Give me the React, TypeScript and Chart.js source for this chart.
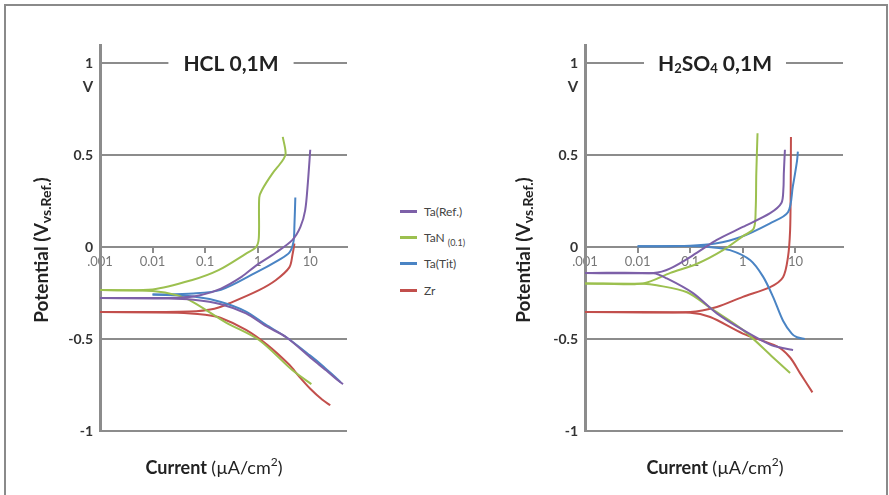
import React, { useEffect, useRef } from 'react';
import { Chart, registerables } from 'chart.js';

Chart.register(...registerables);

type Point = [number, number];

// Series shared by both panels
const seriesNames = ['Ta(Ref.)', 'TaN', 'Ta(Tit)', 'Zr'];
const seriesSubs = ['', '(0.1)', '', ''];
const seriesColors = ['#7d60a8', '#9cc04f', '#4a84c4', '#c24f4c'];

// Axis ticks
const currentTicks = [0.001, 0.01, 0.1, 1, 10];
const currentTickLabels = ['.001', '0.01', '0.1', '1', '10'];
const potentialTicks = [-1, -0.5, 0, 0.5, 1];
const potentialTickLabels = ['-1', '-0.5', '0', '0.5', '1'];

// HCl 0,1M : [current µA/cm², potential V], each curve split at Ecorr
const hclTaRefCathodic: Point[] = [[0.001, -0.277], [0.02, -0.279], [0.06, -0.286], [0.2, -0.31], [0.6, -0.36], [1.45, -0.43], [3.5, -0.49], [11, -0.61], [20, -0.67], [32, -0.72], [42, -0.745]];
const hclTaRefAnodic: Point[] = [[0.001, -0.277], [0.03, -0.275], [0.08, -0.262], [0.2, -0.225], [0.5, -0.16], [0.93, -0.1], [2.2, -0.03], [4.6, 0.04], [6.5, 0.11], [8, 0.2], [9, 0.35], [10, 0.53]];
const hclTaNCathodic: Point[] = [[0.001, -0.233], [0.01, -0.238], [0.03, -0.262], [0.06, -0.3], [0.25, -0.41], [1.06, -0.505], [4.6, -0.67], [10.5, -0.745]];
const hclTaNAnodic: Point[] = [[0.001, -0.233], [0.01, -0.23], [0.055, -0.18], [0.18, -0.125], [0.6, -0.035], [0.93, 0.0], [1.05, 0.05], [1.07, 0.27], [1.2, 0.31], [1.9, 0.4], [2.95, 0.47], [3.4, 0.51], [3.0, 0.6]];
const hclTaTitCathodic: Point[] = [[0.01, -0.258], [0.06, -0.268], [0.2, -0.298], [0.6, -0.35], [1.4, -0.42], [3.5, -0.49], [10, -0.59], [18, -0.65], [28, -0.7], [38, -0.735]];
const hclTaTitAnodic: Point[] = [[0.01, -0.258], [0.06, -0.252], [0.2, -0.232], [0.9, -0.14], [2.5, -0.07], [4, -0.03], [4.8, 0.03], [5.0, 0.12], [5.2, 0.27]];
const hclZrCathodic: Point[] = [[0.001, -0.353], [0.03, -0.356], [0.1, -0.368], [0.2, -0.385], [0.6, -0.45], [1.5, -0.53], [4, -0.64], [6, -0.7], [10, -0.77], [17, -0.83], [24, -0.86]];
const hclZrAnodic: Point[] = [[0.001, -0.353], [0.05, -0.35], [0.15, -0.335], [0.32, -0.3], [1.06, -0.234], [2.2, -0.18], [4, -0.11], [4.6, -0.04], [5, 0.02]];

// H2SO4 0,1M
const h2so4TaRefCathodic: Point[] = [[0.001, -0.14], [0.02, -0.142], [0.036, -0.17], [0.113, -0.25], [0.32, -0.36], [1.0, -0.45], [3.3, -0.53], [6, -0.55], [9, -0.56]];
const h2so4TaRefAnodic: Point[] = [[0.001, -0.14], [0.02, -0.14], [0.042, -0.115], [0.135, -0.03], [0.32, 0.04], [1.0, 0.11], [3.3, 0.185], [5.4, 0.24], [5.9, 0.32], [6.0, 0.4], [6.3, 0.53]];
const h2so4TaNCathodic: Point[] = [[0.001, -0.197], [0.0126, -0.199], [0.023, -0.207], [0.087, -0.245], [0.24, -0.33], [1.0, -0.45], [3.75, -0.6], [7.9, -0.685]];
const h2so4TaNAnodic: Point[] = [[0.001, -0.197], [0.0126, -0.197], [0.042, -0.14], [0.135, -0.09], [0.42, -0.016], [1.0, 0.06], [1.6, 0.1], [1.75, 0.2], [1.8, 0.4], [1.9, 0.62]];
const h2so4TaTitCathodic: Point[] = [[0.01, 0.005], [0.1, 0.006], [0.25, 0.0], [0.57, -0.016], [1.37, -0.07], [2.42, -0.16], [3.75, -0.27], [5.8, -0.4], [8.5, -0.47], [10.7, -0.49], [15, -0.5]];
const h2so4TaTitAnodic: Point[] = [[0.01, 0.005], [0.1, 0.008], [0.3, 0.02], [0.885, 0.054], [3.29, 0.13], [7.2, 0.19], [8.9, 0.33], [10.7, 0.47], [11.1, 0.52]];
const h2so4ZrCathodic: Point[] = [[0.001, -0.353], [0.1, -0.356], [0.24, -0.38], [1.0, -0.47], [4.47, -0.54], [7.9, -0.6], [12.2, -0.685], [21, -0.79]];
const h2so4ZrAnodic: Point[] = [[0.001, -0.353], [0.1, -0.352], [0.32, -0.325], [1.0, -0.27], [3.3, -0.217], [5.8, -0.163], [7.2, -0.054], [7.9, 0.09], [8.1, 0.3], [8.2, 0.6]];

type Part = { t: string; size: number; bold?: boolean; dy?: number };

type Panel = {
  titleParts: Part[];
  branches: [Point[], Point[]][];
  xMax: number;
  left: number;
  width: number;
  axisWidth: number;
  padRight: number;
  titleCenter: number;
  titleGap: number;
  yTitleX: number;
  yTitleY: number;
  xTitleCenter: number;
  xTitleBaseline: number;
};

const GRID = '#8c8c8c';
const FAMILY = 'Lato, "Open Sans", sans-serif';

function fontOf(p: Part) {
  return `${p.bold ? 'bold ' : ''}${p.size}px ${FAMILY}`;
}

// Draws a run of differently sized text pieces centred on (cx, cy)
function drawRich(ctx: CanvasRenderingContext2D, parts: Part[], cx: number, cy: number, angle: number) {
  let total = 0;
  const widths = parts.map((p) => {
    ctx.font = fontOf(p);
    const w = ctx.measureText(p.t).width;
    total += w;
    return w;
  });
  ctx.save();
  ctx.translate(cx, cy);
  ctx.rotate(angle);
  ctx.textAlign = 'left';
  ctx.textBaseline = 'alphabetic';
  let x = -total / 2;
  parts.forEach((p, i) => {
    ctx.font = fontOf(p);
    ctx.fillText(p.t, x, p.dy ?? 0);
    x += widths[i];
  });
  ctx.restore();
  return total;
}

const yTitleParts: Part[] = [
  { t: 'Potential (V', size: 19, bold: true },
  { t: 'vs.Ref.', size: 14, bold: true, dy: 3 },
  { t: ')', size: 19, bold: true },
];

const xTitleParts: Part[] = [
  { t: 'Current ', size: 18, bold: true },
  { t: '(\u00b5A/cm', size: 18 },
  { t: '2', size: 12, dy: -8 },
  { t: ')', size: 18 },
];

const hclPanel: Panel = {
  titleParts: [{ t: 'HCL 0,1M', size: 21, bold: true }],
  branches: [
    [hclTaRefCathodic, hclTaRefAnodic],
    [hclTaNCathodic, hclTaNAnodic],
    [hclTaTitCathodic, hclTaTitAnodic],
    [hclZrCathodic, hclZrAnodic],
  ],
  xMax: 50,
  left: 0,
  width: 390,
  axisWidth: 100,
  padRight: 43,
  titleCenter: 231,
  titleGap: 15,
  yTitleX: 48,
  yTitleY: 250,
  xTitleCenter: 214,
  xTitleBaseline: 474,
};

const h2so4Panel: Panel = {
  titleParts: [
    { t: 'H', size: 21, bold: true },
    { t: '2', size: 13, bold: true, dy: 2 },
    { t: 'SO', size: 21, bold: true },
    { t: '4', size: 13, bold: true, dy: 2 },
    { t: ' 0,1M', size: 21, bold: true },
  ],
  branches: [
    [h2so4TaRefCathodic, h2so4TaRefAnodic],
    [h2so4TaNCathodic, h2so4TaNAnodic],
    [h2so4TaTitCathodic, h2so4TaTitAnodic],
    [h2so4ZrCathodic, h2so4ZrAnodic],
  ],
  xMax: 80,
  left: 480,
  width: 409,
  axisWidth: 105,
  padRight: 46,
  titleCenter: 235,
  titleGap: 14,
  yTitleX: 50,
  yTitleY: 250,
  xTitleCenter: 235,
  xTitleBaseline: 474,
};

function PolarizationPanel({ panel }: { panel: Panel }) {
  const ref = useRef<HTMLCanvasElement>(null);

  useEffect(() => {
    const canvas = ref.current;
    if (!canvas) return;

    const labels = {
      id: 'panelLabels',
      afterDraw(chart: any) {
        const ctx: CanvasRenderingContext2D = chart.ctx;
        const yScale = chart.scales.y;
        const yOne = yScale.getPixelForValue(1);
        ctx.save();
        // panel title sitting on the 1 V line
        let tw = 0;
        panel.titleParts.forEach((p) => {
          ctx.font = fontOf(p);
          tw += ctx.measureText(p.t).width;
        });
        ctx.fillStyle = '#ffffff';
        ctx.fillRect(panel.titleCenter - tw / 2 - panel.titleGap, yOne - 5, tw + panel.titleGap * 2, 10);
        ctx.fillStyle = '#222222';
        drawRich(ctx, panel.titleParts, panel.titleCenter, yOne + 8, 0);
        // unit under the top tick
        ctx.fillStyle = '#333333';
        ctx.font = `bold 15px ${FAMILY}`;
        ctx.textAlign = 'center';
        ctx.textBaseline = 'middle';
        ctx.fillText('V', panel.axisWidth - 12, yOne + 24);
        // axis titles
        ctx.fillStyle = '#222222';
        drawRich(ctx, yTitleParts, panel.yTitleX, panel.yTitleY, -Math.PI / 2);
        drawRich(ctx, xTitleParts, panel.xTitleCenter, panel.xTitleBaseline, 0);
        ctx.restore();
      },
    };

    const datasets: any[] = [];
    panel.branches.forEach(([cathodic, anodic], i) => {
      [cathodic, anodic].forEach((branch) => {
        datasets.push({
          label: seriesNames[i],
          data: branch.map(([x, y]) => ({ x, y })),
          borderColor: seriesColors[i],
          backgroundColor: seriesColors[i],
          borderWidth: 2,
          pointRadius: 0,
          showLine: true,
          tension: 0.3,
        });
      });
    });

    const chart = new Chart(canvas, {
      type: 'scatter',
      data: { datasets },
      options: {
        animation: false,
        responsive: false,
        devicePixelRatio: 1,
        layout: { padding: { top: 45, bottom: 64, left: 0, right: panel.padRight } },
        plugins: { legend: { display: false }, tooltip: { enabled: false } },
        scales: {
          x: {
            type: 'logarithmic',
            min: 0.001,
            max: panel.xMax,
            position: { y: 0 },
            afterFit: (s: any) => {
              s.height = 0;
            },
            afterBuildTicks: (s: any) => {
              s.ticks = currentTicks.map((v) => ({ value: v }));
            },
            ticks: {
              autoSkip: false,
              maxRotation: 0,
              padding: 2,
              color: '#777777',
              font: { family: FAMILY, size: 13 },
              callback: (_v: any, i: number) => currentTickLabels[i],
            },
            grid: { drawOnChartArea: false, drawTicks: true, tickLength: 5, color: GRID, lineWidth: 2 },
            border: { display: true, color: GRID, width: 2 },
          },
          y: {
            type: 'linear',
            min: -1,
            max: 1.1,
            afterFit: (s: any) => {
              s.width = panel.axisWidth;
            },
            afterBuildTicks: (s: any) => {
              s.ticks = potentialTicks.map((v) => ({ value: v }));
            },
            ticks: {
              padding: 7,
              color: '#333333',
              font: { family: FAMILY, size: 14, weight: 'bold' },
              callback: (_v: any, i: number) => potentialTickLabels[i],
            },
            grid: { color: GRID, lineWidth: 2, drawTicks: false },
            border: { display: true, color: GRID, width: 3 },
          },
        },
      },
      plugins: [labels],
    } as any);

    return () => chart.destroy();
  }, [panel]);

  return (
    <canvas
      ref={ref}
      width={panel.width}
      height={495}
      style={{ position: 'absolute', left: panel.left, top: 0, width: panel.width, height: 495 }}
    />
  );
}

function Legend() {
  return (
    <div style={{ position: 'absolute', left: 400, top: 198, font: `12px ${FAMILY}`, color: '#444' }}>
      {seriesNames.map((name, i) => (
        <div key={name} style={{ height: 26.3, display: 'flex', alignItems: 'center', whiteSpace: 'nowrap' }}>
          <span style={{ display: 'inline-block', width: 17, height: 3, background: seriesColors[i], marginRight: 7 }} />
          <span>
            {name}
            {seriesSubs[i] && (
              <span style={{ fontSize: 9, position: 'relative', top: 4, marginLeft: 3 }}>{seriesSubs[i]}</span>
            )}
          </span>
        </div>
      ))}
    </div>
  );
}

export default function App() {
  return (
    <div style={{ position: 'absolute', left: 0, top: 0, width: 889, height: 495, background: '#fff', overflow: 'hidden' }}>
      <div
        style={{
          position: 'absolute',
          left: 4,
          top: 4,
          width: 884,
          height: 600,
          border: '2px solid #8a8a8a',
          boxSizing: 'border-box',
        }}
      />
      <PolarizationPanel panel={hclPanel} />
      <Legend />
      <PolarizationPanel panel={h2so4Panel} />
    </div>
  );
}
